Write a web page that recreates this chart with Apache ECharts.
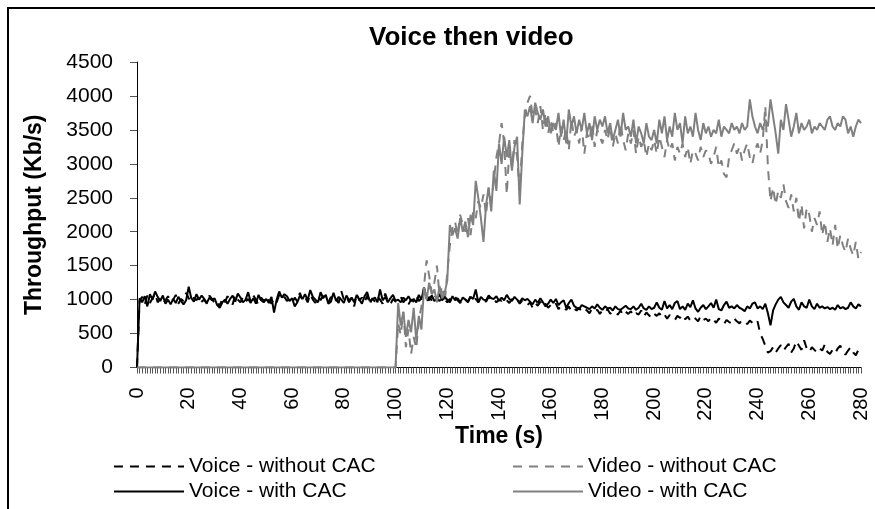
<!DOCTYPE html>
<html>
<head>
<meta charset="utf-8">
<title>Voice then video</title>
<script src="https://cdn.jsdelivr.net/npm/echarts@6/dist/echarts.min.js"></script>
<style>
html, body { margin: 0; padding: 0; background: #fff; }
#main { width: 875px; height: 509px; }
</style>
</head>
<body>
<div id="main"></div>
<script>
// 时间轴 0..280 s, 每秒一个点
const tickStart = 0
const tickStep = 1
const tickCount = 281
const times = Array.from({ length: tickCount }, (_, i) => String(tickStart + i * tickStep))

// Voice - without CAC (Kb/s)
const voiceWithoutCAC = [
  0,
  980, 1040, 930, 1060, 950, 1020, 1090, 960, 1010, 940,
  990, 1050, 960, 1000, 1070, 940, 1010, 980, 1100, 1020,
  960, 1030, 990, 1050, 970, 1000, 940, 1060, 1010, 950,
  980, 900, 1020, 960, 1050, 990, 930, 1070, 1000, 960,
  1040, 970, 1010, 950, 1060, 1000, 920, 1030, 980, 1050,
  990, 940, 1020, 960, 1070, 1000, 1040, 980, 1010, 950,
  1030, 970, 1100, 990, 1040, 960, 1080, 1000, 950, 1050,
  990, 1060, 1010, 960, 1040, 980, 1000, 950, 1130, 1000,
  1050, 960, 1020, 900, 1080, 990, 1030, 960, 1060, 930,
  1020, 970, 1050, 1000, 940, 1090, 980, 930, 1010, 970,
  990, 1040, 960, 1010, 930, 1000, 970, 1050, 980, 1020,
  1000, 960, 1040, 990, 1070, 1010, 980, 1030, 1000, 960,
  1010, 970, 1040, 990, 950, 1020, 1000, 970, 1050, 990,
  1010, 960, 1030, 1000, 970, 1040, 990, 1010, 960, 1000,
  980, 1020, 990, 950, 1010, 970, 1000, 940, 990, 960,
  920, 960, 880, 950, 910, 970, 900, 940, 880, 920,
  890, 940, 860, 910, 880, 850, 900, 830, 870, 840,
  880, 820, 860, 840, 800, 870, 830, 850, 790, 840,
  810, 860, 790, 830, 800, 780, 840, 770, 820, 790,
  830, 760, 800, 780, 840, 750, 810, 770, 730, 790,
  760, 800, 740, 780, 720, 770, 750, 700, 760, 730,
  780, 710, 750, 690, 740, 720, 680, 760, 700, 720,
  680, 740, 700, 660, 720, 690, 640, 700, 670, 650,
  720, 680, 650, 700, 670, 640, 690, 660, 630, 680,
  500, 420, 320, 220, 240, 300, 220, 280, 330, 250,
  300, 350, 220, 280, 390, 320, 260, 400, 280, 230,
  300, 260, 220, 280, 250, 340, 230, 200, 260, 210,
  280, 320, 240, 190, 250, 300, 220, 180, 260, 300
]

// Video - without CAC (Kb/s)
const videoWithoutCAC = [
  0, 0, 0, 0, 0, 0, 0, 0, 0, 0, 0, 0, 0, 0, 0, 0, 0, 0, 0, 0,
  0, 0, 0, 0, 0, 0, 0, 0, 0, 0, 0, 0, 0, 0, 0, 0, 0, 0, 0, 0,
  0, 0, 0, 0, 0, 0, 0, 0, 0, 0, 0, 0, 0, 0, 0, 0, 0, 0, 0, 0,
  0, 0, 0, 0, 0, 0, 0, 0, 0, 0, 0, 0, 0, 0, 0, 0, 0, 0, 0, 0,
  0, 0, 0, 0, 0, 0, 0, 0, 0, 0, 0, 0, 0, 0, 0, 0, 0, 0, 0, 0,
  0,
  650, 480, 820, 300, 560, 200, 450, 280, 700, 900,
  1200, 1580, 1350, 1100, 1250, 1500, 1050, 1200, 950, 1400,
  1800, 2050, 2150, 1950, 2250, 2100, 2000, 2200, 1950, 2300,
  2200, 2450, 2350, 2550, 2250, 2650, 2450, 2750, 3100, 3300,
  3600, 3300, 2550, 3200, 2950, 3350, 3100, 2600, 3300, 3700,
  3900, 4000, 3700, 3800, 3600, 3850, 3500, 3750, 3450, 3650,
  3450, 3600, 3250, 3550, 3350, 3500, 3200, 3650, 3400, 3500,
  3300, 3550, 3150, 3450, 3350, 3600, 3250, 3500, 3400, 3300,
  3500, 3350, 3550, 3250, 3450, 3300, 3600, 3350, 3200, 3450,
  3300, 3500, 3150, 3400, 3250, 3350, 3100, 3300, 3200, 3350,
  3150, 3400, 3250, 3100, 3350, 3200, 3300, 3050, 3250, 3150,
  3300, 3100, 3250, 3000, 3200, 3150, 3050, 3250, 3100, 3200,
  3150, 3000, 3100, 3250, 2950, 3050, 2850, 2800, 3100, 3200,
  3300, 3150, 3250, 3050, 3200, 3300, 3100, 3000, 3200, 3300,
  3150, 3350, 3850, 2950, 2450, 2650, 2400, 2600, 2500, 2700,
  2450, 2350, 2550, 2300, 2500, 2150, 2400, 2050, 2350, 2250,
  2000, 2200, 2100, 2300, 1950, 2150, 1850, 2050, 1800, 2100,
  1750, 1950, 1800, 1700, 1900, 1750, 1650, 1850, 1600, 1700
]

// Voice - with CAC (Kb/s)
const voiceWithCAC = [
  0,
  1020, 960, 1050, 900, 1080, 1000, 1120, 1040, 980, 1060,
  940, 1000, 930, 1010, 950, 1040, 980, 930, 990, 1190,
  1020, 970, 1080, 1000, 1060, 1010, 950, 1030, 990, 1020,
  920, 880, 960, 1000, 940, 1010, 1060, 970, 1090, 1030,
  960, 1000, 1110, 960, 1020, 940, 1070, 990, 960, 1010,
  950, 1040, 810, 1000, 1120, 1030, 1080, 1050, 980, 1020,
  900, 960, 1060, 1010, 1080, 990, 1140, 1040, 1000, 960,
  1110, 1020, 1070, 940, 970, 1100, 980, 1040, 1000, 950,
  1060, 990, 1030, 960, 1070, 1000, 940, 1050, 1110, 980,
  1000, 1030, 960, 1150, 990, 1040, 960, 1020, 1070, 980,
  1000, 960, 1030, 990, 1050, 980, 1010, 960, 1070, 1000,
  1180, 1020, 990, 1060, 980, 1010, 1080, 990, 1040, 1000,
  960, 1050, 990, 1020, 960, 1030, 1000, 960, 1040, 1010,
  1150, 960, 1040, 1000, 990, 1060, 1020, 1010, 1050, 980,
  1030, 990, 1070, 1010, 980, 1040, 1000, 960, 1020, 990,
  1010, 970, 930, 1000, 950, 1020, 960, 900, 940, 1000,
  950, 1010, 920, 960, 990, 880, 950, 1000, 910, 880,
  860, 920, 900, 880, 860, 900, 870, 930, 880, 850,
  900, 870, 880, 840, 900, 860, 850, 880, 910, 870,
  860, 900, 850, 880, 940, 870, 850, 900, 860, 880,
  960, 880, 850, 980, 870, 920, 860, 950, 980, 860,
  900, 850, 940, 890, 990, 870, 820, 880, 920, 860,
  900, 950, 880, 1000, 860, 840, 920, 970, 880, 900,
  870, 920, 880, 860, 830, 900, 870, 940, 960, 870,
  900, 860, 940, 800, 620, 840, 930, 1000, 1040, 960,
  920, 880, 970, 1010, 900, 850, 960, 900, 880, 1000,
  900, 860, 940, 880, 900, 870, 890, 860, 880, 850,
  920, 870, 890, 860, 880, 960, 900, 870, 930, 900
]

// Video - with CAC (Kb/s)
const videoWithCAC = [
  0, 0, 0, 0, 0, 0, 0, 0, 0, 0, 0, 0, 0, 0, 0, 0, 0, 0, 0, 0,
  0, 0, 0, 0, 0, 0, 0, 0, 0, 0, 0, 0, 0, 0, 0, 0, 0, 0, 0, 0,
  0, 0, 0, 0, 0, 0, 0, 0, 0, 0, 0, 0, 0, 0, 0, 0, 0, 0, 0, 0,
  0, 0, 0, 0, 0, 0, 0, 0, 0, 0, 0, 0, 0, 0, 0, 0, 0, 0, 0, 0,
  0, 0, 0, 0, 0, 0, 0, 0, 0, 0, 0, 0, 0, 0, 0, 0, 0, 0, 0, 0,
  0,
  950, 620, 820, 450, 700, 520, 880, 400, 760, 560,
  1180, 1000, 1250, 1080, 1150, 960, 1200, 1020, 1100, 1280,
  2100, 1950, 2050, 1900, 2200, 2000, 2150, 1920, 2250, 2100,
  2750, 2500, 2200, 1850, 2400, 2650, 2300, 2900, 2600, 3300,
  3000, 3400, 3100, 3350, 2900, 3250, 3400, 2400, 3150, 3800,
  3700, 3850, 3600, 3900, 3750, 3650, 3800, 3550, 3700, 3450,
  3600, 3500, 3750, 3400, 3650, 3300, 3800, 3550, 3700, 3450,
  3650, 3500, 3750, 3450, 3600, 3350, 3700, 3500, 3650, 3550,
  3700, 3450, 3600, 3350, 3500, 3650, 3400, 3750, 3500, 3550,
  3400, 3650, 3300, 3550, 3450, 3300, 3600, 3400, 3350, 3500,
  3300, 3650, 3450, 3700, 3350, 3550, 3400, 3750, 3500, 3600,
  3300, 3700, 3450, 3550, 3400, 3750, 3500, 3350, 3600, 3450,
  3550, 3400, 3500, 3450, 3650, 3400, 3550, 3500, 3450, 3600,
  3500, 3550, 3450, 3600, 3500, 3550, 3950, 3700, 3550, 3450,
  3600, 3500, 3650, 3550, 3950, 3700, 3450, 3150, 3650, 3500,
  3880, 3650, 3400, 3550, 3750, 3450, 3600, 3500, 3550, 3650,
  3450, 3550, 3500, 3600, 3550, 3500, 3650, 3700, 3550, 3500,
  3600, 3550, 3700, 3650, 3450, 3550, 3400, 3550, 3650, 3600
]

const yTicks = { min: 0, max: 4500, interval: 500 }

const font = "'Liberation Sans', Arial, sans-serif"
const black = '#000000'
const grey = '#808080'
const dash = [9, 7]

function lineSeries (name, data, color, dashed) {
  return {
    name: name,
    type: 'line',
    data: data,
    symbol: 'none',
    showSymbol: false,
    smooth: false,
    lineStyle: { color: color, width: 2, type: dashed ? dash : 'solid' },
    itemStyle: { color: color }
  }
}

// 每个图例单独放置, 组成 2x2 的布局
function legendItem (name, left, top) {
  return {
    data: [name],
    left: left,
    top: top,
    padding: 0,
    itemWidth: 70,
    itemHeight: 14,
    itemStyle: { opacity: 0 },
    textStyle: { fontFamily: font, fontSize: 21, color: black }
  }
}

const myChart = echarts.init(document.getElementById('main'), null, { renderer: 'canvas' })

const option = {
  animation: false,
  backgroundColor: '#ffffff',
  textStyle: { fontFamily: font, color: black },
  title: {
    text: 'Voice then video',
    left: 364,
    top: 20,
    textStyle: { fontFamily: font, fontSize: 26, fontWeight: 'bold', color: black }
  },
  legend: [
    legendItem('Voice - without CAC', 113, 456),
    legendItem('Video - without CAC', 512, 456),
    legendItem('Voice - with CAC', 113, 481),
    legendItem('Video - with CAC', 512, 481)
  ],
  grid: {
    left: 137,
    right: 14,
    top: 62,
    bottom: 141.5,
    containLabel: false
  },
  xAxis: {
    type: 'category',
    data: times,
    boundaryGap: false,
    name: 'Time (s)',
    nameLocation: 'middle',
    nameGap: 58,
    nameMoveOverlap: false,
    nameTextStyle: { fontFamily: font, fontSize: 23, fontWeight: 'bold', color: black },
    axisLine: { lineStyle: { color: black, width: 1 } },
    axisTick: { show: true, interval: 0, length: 6, lineStyle: { color: '#555555', width: 1 } },
    axisLabel: {
      interval: 19,
      rotate: 90,
      margin: 20,
      fontFamily: font,
      fontSize: 20,
      color: black
    },
    splitLine: { show: false }
  },
  yAxis: {
    type: 'value',
    min: yTicks.min,
    max: yTicks.max,
    interval: yTicks.interval,
    name: 'Throughput (Kb/s)',
    nameLocation: 'middle',
    nameRotate: 90,
    nameGap: 91,
    nameMoveOverlap: false,
    nameTextStyle: { fontFamily: font, fontSize: 23, fontWeight: 'bold', color: black },
    axisLine: { show: true, lineStyle: { color: black, width: 1 } },
    axisTick: { show: true, length: 7, lineStyle: { color: '#555555', width: 1 } },
    axisLabel: {
      margin: 24,
      fontFamily: font,
      fontSize: 21,
      color: black,
      formatter: function (v) { return String(v) }
    },
    splitLine: { show: false }
  },
  // 外框 (只露出左边和上边)
  graphic: [
    {
      type: 'rect',
      silent: true,
      shape: { x: 8, y: 8, width: 1000, height: 1000 },
      style: { fill: null, stroke: black, lineWidth: 2 }
    }
  ],
  series: [
    lineSeries('Voice - without CAC', voiceWithoutCAC, black, true),
    lineSeries('Video - without CAC', videoWithoutCAC, grey, true),
    lineSeries('Voice - with CAC', voiceWithCAC, black, false),
    lineSeries('Video - with CAC', videoWithCAC, grey, false)
  ]
}

myChart.setOption(option)
</script>
</body>
</html>
